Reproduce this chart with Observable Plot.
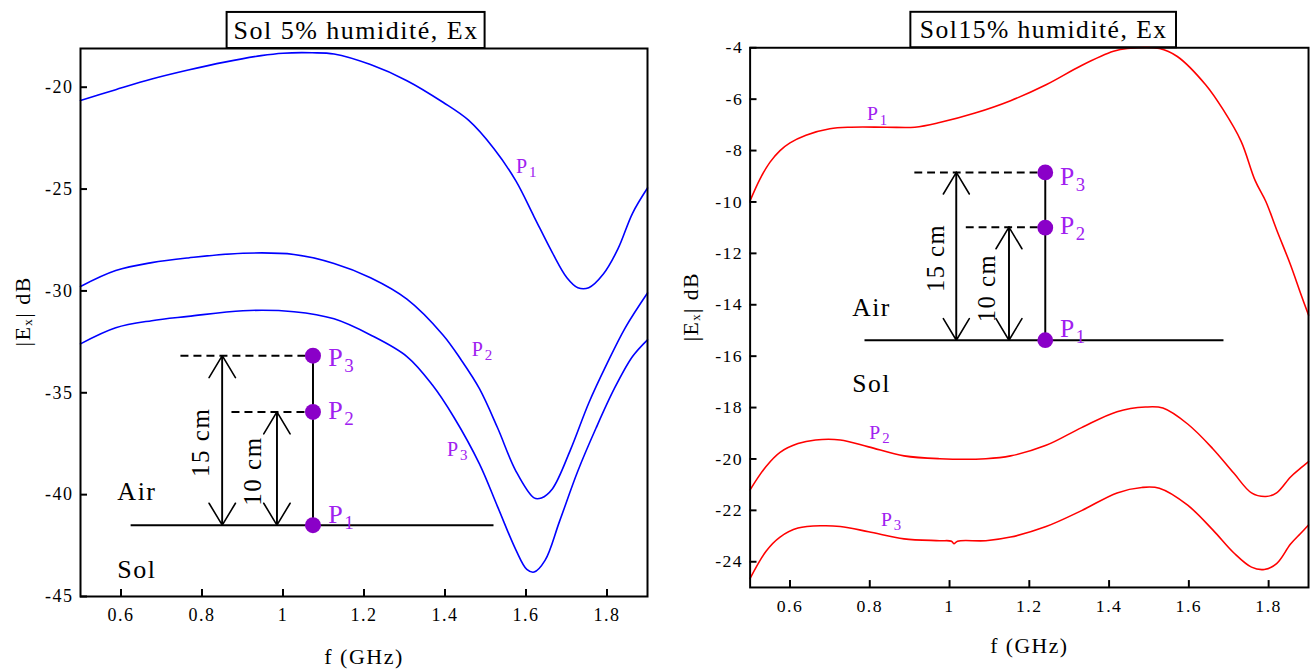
<!DOCTYPE html>
<html><head><meta charset="utf-8">
<script src="https://cdn.jsdelivr.net/npm/d3@7"></script>
<script src="https://cdn.jsdelivr.net/npm/@observablehq/plot@0.6"></script>
<style>
html,body{margin:0;padding:0;background:#fff;overflow:hidden}
#wrap{position:relative;width:1310px;height:671px;overflow:hidden;background:#fff}
#left{position:absolute;left:0;top:0}
#right{position:absolute;left:660px;top:0}
</style></head><body><div id="wrap"><div id="left"></div><div id="right"></div></div>
<script>
// ---------- ticks ----------
const xTicks = [0.6, 0.8, 1, 1.2, 1.4, 1.6, 1.8];
const yTicksLeft = [-45, -40, -35, -30, -25, -20];
const yTicksRight = [-24, -22, -20, -18, -16, -14, -12, -10, -8, -6, -4];

// ---------- titles / labels ----------
const titleLeft = "Sol 5% humidité, Ex";
const titleRight = "Sol15% humidité, Ex";
const xLabel = "f (GHz)";
const yLabel = "|Eₓ| dB";

// ---------- left panel (5 % humidity), [f GHz, |Ex| dB] ----------
const leftP1 = [[0.5,-20.65],[0.587,-20.12],[0.676,-19.6],[0.766,-19.16],[0.856,-18.77],[0.946,-18.45],[1.0,-18.33],[1.072,-18.31],[1.126,-18.37],[1.216,-18.89],[1.306,-19.68],[1.395,-20.74],[1.458,-21.62],[1.521,-23.02],[1.575,-24.6],[1.62,-26.36],[1.665,-28.12],[1.701,-29.35],[1.728,-29.84],[1.755,-29.84],[1.791,-29.17],[1.827,-27.94],[1.863,-26.19],[1.9,-24.95]];
const leftP2 = [[0.5,-29.78],[0.587,-29.0],[0.676,-28.61],[0.766,-28.38],[0.901,-28.15],[1.027,-28.21],[1.126,-28.65],[1.216,-29.35],[1.306,-30.4],[1.395,-32.16],[1.44,-33.39],[1.485,-34.8],[1.53,-36.73],[1.575,-38.84],[1.62,-40.16],[1.638,-40.16],[1.665,-39.72],[1.71,-37.79],[1.755,-35.5],[1.8,-33.57],[1.845,-31.81],[1.9,-30.1]];
const leftP3 = [[0.5,-32.6],[0.587,-31.81],[0.676,-31.46],[0.766,-31.25],[0.901,-30.97],[1.027,-31.02],[1.126,-31.37],[1.216,-32.16],[1.306,-33.22],[1.369,-34.62],[1.422,-36.2],[1.485,-38.49],[1.53,-40.6],[1.575,-42.71],[1.602,-43.67],[1.62,-43.8],[1.647,-43.23],[1.683,-41.3],[1.728,-38.84],[1.773,-36.73],[1.818,-34.8],[1.863,-33.22],[1.9,-32.4]];

// ---------- right panel (15 % humidity) ----------
const rightP1 = [[0.5,-9.95],[0.525,-9.1],[0.55,-8.45],[0.575,-8.0],[0.6,-7.7],[0.64,-7.4],[0.7,-7.15],[0.753,-7.09],[0.842,-7.09],[0.913,-7.09],[0.975,-6.91],[1.064,-6.54],[1.153,-6.06],[1.242,-5.44],[1.331,-4.69],[1.411,-4.14],[1.446,-4.03],[1.526,-4.03],[1.571,-4.34],[1.642,-5.44],[1.686,-6.41],[1.731,-7.64],[1.766,-9.16],[1.793,-9.98],[1.82,-11.08],[1.855,-12.45],[1.88,-13.55],[1.9,-14.4]];
const rightP2 = [[0.5,-21.2],[0.54,-20.29],[0.575,-19.74],[0.62,-19.4],[0.664,-19.26],[0.726,-19.26],[0.797,-19.53],[0.886,-19.88],[0.975,-19.99],[1.091,-19.99],[1.153,-19.88],[1.242,-19.47],[1.331,-18.78],[1.42,-18.16],[1.491,-17.98],[1.535,-18.02],[1.597,-18.64],[1.66,-19.6],[1.713,-20.56],[1.757,-21.32],[1.793,-21.46],[1.82,-21.32],[1.855,-20.7],[1.88,-20.36],[1.9,-20.1]];
const rightP3 = [[0.5,-24.65],[0.54,-23.59],[0.575,-23.04],[0.62,-22.69],[0.682,-22.6],[0.726,-22.63],[0.797,-22.83],[0.886,-23.11],[0.975,-23.18],[1.005,-23.2],[1.011,-23.3],[1.02,-23.2],[1.091,-23.18],[1.153,-23.04],[1.242,-22.63],[1.331,-22.01],[1.42,-21.32],[1.482,-21.11],[1.526,-21.14],[1.597,-21.8],[1.66,-22.76],[1.713,-23.66],[1.757,-24.21],[1.789,-24.3],[1.82,-24.07],[1.855,-23.31],[1.88,-22.9],[1.9,-22.57]];

// ---------- curve labels (P + subscript) ----------
const curveLabelsLeft = [{x:1.575,y:-23.9,s:"1"},{x:1.466,y:-32.86,s:"2"},{x:1.405,y:-37.79,s:"3"}];
const curveLabelsRight = [{x:0.793,y:-6.58,s:"1"},{x:0.799,y:-18.98,s:"2"},{x:0.828,y:-22.35,s:"3"}];

// ---------- inset sketches (data units of each panel) ----------
const insetLeft = {
  ground: [{y:-41.5, x1:0.625, x2:1.521}],
  stem: [{x:1.074, y1:-41.5, y2:-33.18}],
  points: [{x:1.074,y:-33.18},{x:1.074,y:-35.94},{x:1.074,y:-41.5}],
  dashes: [{y:-33.18,x1:0.748,x2:1.074},{y:-35.94,x1:0.874,x2:1.074}],
  dims: [{x:0.850,y1:-41.5,y2:-33.18},{x:0.985,y1:-41.5,y2:-35.94}],
  dimText: [{x:0.798,y:-37.43,t:"15 cm"},{x:0.926,y:-38.84,t:"10 cm"}],
  media: [{x:0.591,y:-39.86,t:"Air"},{x:0.591,y:-43.67,t:"Sol"}],
  pLabels: [{x:1.112,y:-33.3,s:"3"},{x:1.112,y:-35.89,s:"2"},{x:1.112,y:-40.98,s:"1"}]
};
const insetRight = {
  ground: [{y:-15.38, x1:0.788, x2:1.688}],
  stem: [{x:1.240, y1:-15.38, y2:-8.85}],
  points: [{x:1.240,y:-8.85},{x:1.240,y:-11.0},{x:1.240,y:-15.38}],
  dashes: [{y:-8.85,x1:0.913,x2:1.240},{y:-10.98,x1:1.042,x2:1.240}],
  dims: [{x:1.017,y1:-15.38,y2:-8.85},{x:1.149,y1:-15.38,y2:-10.98}],
  dimText: [{x:0.966,y:-12.18,t:"15 cm"},{x:1.095,y:-13.35,t:"10 cm"}],
  media: [{x:0.756,y:-14.1,t:"Air"},{x:0.756,y:-17.06,t:"Sol"}],
  pLabels: [{x:1.277,y:-9.02,s:"3"},{x:1.277,y:-10.94,s:"2"},{x:1.277,y:-14.93,s:"1"}]
};

// title boxes (x in GHz, y in dB; they sit above the frame)
const titleBoxLeft = [{x1:0.862, x2:1.499, y1:-18.1, y2:-16.33}];
const titleBoxRight = [{x1:0.903, x2:1.569, y1:-4, y2:-2.62}];

const FONT = "'Liberation Serif','Times New Roman',Times,serif";
const PURPLE_TXT = "#a020f0";
const PURPLE_DOT = "#8a00c8";

function panel({xDomain, yDomain, marginLeft, marginRight, yTicks, curves, color, title, titleBox, curveLabels, inset, yLabelDx}) {
  const W = 660, H = 671, mt = 48, mb = 75;
  const plotW = W - marginLeft - marginRight, plotH = H - mt - mb;
  const tb = titleBox[0];
  const marks = [
    Plot.rect(titleBox, {x1:"x1", x2:"x2", y1:"y1", y2:"y2", fill:"white", stroke:"black", strokeWidth:2}),
    Plot.text([title], {x: (tb.x1+tb.x2)/2, y: (tb.y1+tb.y2)/2, text: d=>d, fontSize: 26, fill:"black", fontFamily: FONT}),
    ...curves.map(c => Plot.line(c, {x: d=>d[0], y: d=>d[1], stroke: color, strokeWidth: 1.6, curve: "catmull-rom"})),
    Plot.frame({stroke:"black", strokeWidth: 2}),
    Plot.tickY(yTicks, {y: d=>d, insetRight: plotW - 7, stroke:"black", strokeWidth: 2}),
    Plot.tickX(xTicks, {x: d=>d, insetTop: plotH - 7, stroke:"black", strokeWidth: 2}),
    Plot.axisY({ticks: yTicks, tickSize: 0, tickPadding: 7, tickFormat: d=>String(d), fontSize: 18, fontFamily: FONT, label: null}),
    Plot.axisX({ticks: xTicks, tickSize: 0, tickPadding: 12, tickFormat: d=>String(d), fontSize: 18, fontFamily: FONT, label: null}),
    Plot.text([xLabel], {frameAnchor:"bottom", dy: 67, text: d=>d, fontSize: 22, fill:"black", fontFamily: FONT}),
    Plot.text([yLabel], {frameAnchor:"left", dx: yLabelDx, dy: 24, rotate: -90, text: d=>d, fontSize: 22, fill:"black", fontFamily: FONT}),
    Plot.text(curveLabels, {x:"x", y:"y", text: ()=>"P", textAnchor:"start", fontSize: 20, fill: PURPLE_TXT, fontFamily: FONT}),
    Plot.text(curveLabels, {x:"x", y:"y", text:"s", textAnchor:"start", dx: 13, dy: 6, fontSize: 15, fill: PURPLE_TXT, fontFamily: FONT}),
    Plot.ruleY(inset.ground, {y:"y", x1:"x1", x2:"x2", stroke:"black", strokeWidth: 2}),
    Plot.ruleY(inset.dashes, {y:"y", x1:"x1", x2:"x2", stroke:"black", strokeWidth: 2, strokeDasharray:"8,5"}),
    Plot.ruleX(inset.stem, {x:"x", y1:"y1", y2:"y2", stroke:"black", strokeWidth: 2}),
    Plot.arrow(inset.dims, {x:"x", y1:"y1", y2:"y2", stroke:"black", strokeWidth: 1.6, headLength: 24, headAngle: 62}),
    Plot.arrow(inset.dims, {x:"x", y1:"y2", y2:"y1", stroke:"black", strokeWidth: 1.6, headLength: 24, headAngle: 62}),
    Plot.dot(inset.points, {x:"x", y:"y", r: 8, fill: PURPLE_DOT, stroke: "none"}),
    Plot.text(inset.dimText, {x:"x", y:"y", text:"t", rotate: -90, fontSize: 25, fill:"black", fontFamily: FONT}),
    Plot.text(inset.media, {x:"x", y:"y", text:"t", textAnchor:"start", fontSize: 26, fill:"black", fontFamily: FONT}),
    Plot.text(inset.pLabels, {x:"x", y:"y", text: ()=>"P", textAnchor:"start", fontSize: 26, fill: PURPLE_TXT, fontFamily: FONT}),
    Plot.text(inset.pLabels, {x:"x", y:"y", text:"s", textAnchor:"start", dx: 16, dy: 8, fontSize: 19, fill: PURPLE_TXT, fontFamily: FONT})
  ];
  return Plot.plot({
    width: W, height: H,
    marginLeft, marginRight, marginTop: mt, marginBottom: mb,
    x: {domain: xDomain},
    y: {domain: yDomain},
    style: {fontFamily: FONT, letterSpacing: "1.5px", background: "white", color: "black", overflow: "visible"},
    marks
  });
}

document.getElementById("left").append(panel({
  xDomain: [0.5, 1.9], yDomain: [-45, -18.1], marginLeft: 80, marginRight: 13,
  yTicks: yTicksLeft, curves: [leftP1, leftP2, leftP3], color: "#0000ff",
  title: titleLeft, titleBox: titleBoxLeft, curveLabels: curveLabelsLeft, inset: insetLeft, yLabelDx: -58
}));
document.getElementById("right").append(panel({
  xDomain: [0.5, 1.9], yDomain: [-25, -4], marginLeft: 91, marginRight: 2,
  yTicks: yTicksRight, curves: [rightP1, rightP2, rightP3], color: "#ff0000",
  title: titleRight, titleBox: titleBoxRight, curveLabels: curveLabelsRight, inset: insetRight, yLabelDx: -60
}));
</script></body></html>
